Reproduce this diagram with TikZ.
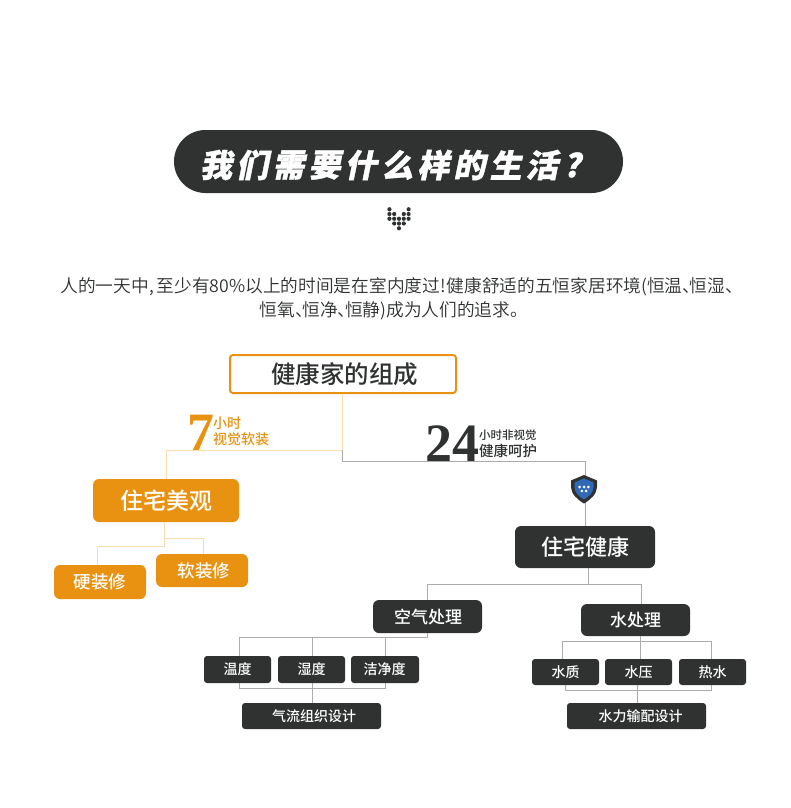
\documentclass[tikz,border=0pt]{standalone}
\usepackage{fontspec}
\setmainfont{Liberation Serif}
\newfontfamily\cjk{Noto Sans CJK SC DemiLight}
\newfontfamily\cjkbold[FakeBold=1.2,FakeSlant=0.2]{Noto Sans CJK SC Black}
\newfontfamily\cjkmed{Noto Sans CJK SC Medium}
\definecolor{ink}{HTML}{2F3231}
\definecolor{amber}{HTML}{E99211}
\definecolor{paleamber}{HTML}{F8DDB0}
\definecolor{wire}{HTML}{ABABAB}
\definecolor{shieldblue}{HTML}{2F69B8}
\tikzset{
  x=1pt,y=-1pt,
  box/.style={rounded corners=6pt,inner sep=0pt,text=white,font=\cjkmed},
  darkbox/.style={box,fill=ink},
  amberbox/.style={box,fill=amber},
  wireline/.style={draw=wire,line width=1pt},
  paleline/.style={draw=paleamber,line width=1pt},
  bodytext/.style={inner sep=0pt,text=ink,font=\cjk\fontsize{17.7}{18}\selectfont},
  numeral/.style={inner sep=0pt,anchor=base west,font=\bfseries\fontsize{54}{54}\selectfont},
  tag/.style={inner sep=0pt,anchor=west,font=\cjkmed},
}
\newcommand{\dun}{、\kern-10.5pt\relax}
% box by corners: name, x0, y0, x1, y1, style, size, text
\newcommand{\cornerbox}[8]{%
  \node[#6,minimum width=#4pt-#2pt,minimum height=#5pt-#3pt,font=\cjkmed\fontsize{#7}{#7}\selectfont] (#1) at ({(#2+#4)/2},{(#3+#5)/2}) {#8};}
\begin{document}
\begin{tikzpicture}
\useasboundingbox (0,0) rectangle (790,808);
\fill[white] (0,0) rectangle (790,808);

% junction points
\coordinate (jTop) at (342,394);
\coordinate (jPale) at (342,450);
\coordinate (jDark) at (342,461.5);
\coordinate (jAmberIn) at (166,479);
\coordinate (jHome) at (585,461.5);
\coordinate (jHomeIn) at (585,526);
\coordinate (jA) at (164,522);
\coordinate (jA1) at (164,546);
\coordinate (jA2) at (164,538);
\coordinate (jHard) at (97,565);
\coordinate (jSoft) at (203,554);
\coordinate (jH) at (588,568);
\coordinate (jH1) at (588,584);
\coordinate (jAir) at (427,600);
\coordinate (jWater) at (641,604);

% wires (behind the boxes)
\draw[paleline] (jTop) -- (jPale) -- (jPale -| jAmberIn) -- (jAmberIn);
\draw[wireline] (jPale) -- (jDark) -- (jHome) -- (jHomeIn);
\draw[paleline] (jA) -- (jA1) -- (jA1 -| jHard) -- (jHard);
\draw[paleline] (jA2) -- (jA2 -| jSoft) -- (jSoft);
\draw[wireline] (jH) -- (jH1);
\draw[wireline] (jAir) -- (jAir |- jH1) -- (jWater |- jH1) -- (jWater);

% title
\node[fill=ink,rounded corners=31.5pt,minimum width=449pt,minimum height=63pt,inner sep=0pt] (title) at (398.5,161.5) {};
\foreach \ch [count=\i from 0] in {我,们,需,要,什,么,样,的,生,活}
  \node[inner sep=0pt,text=white,font=\cjkbold\fontsize{32}{32}\selectfont] (tc\i) at ({216+\i*36.2},165) {\ch};
\node[inner sep=0pt,text=white,font=\cjkbold\fontsize{32}{32}\selectfont] (tcq) at (572,165) {?};

% dotted heart
\foreach \cx/\cy in {
 1/1,5/1,
 1/2,2/2,4/2,5/2,
 1/3,2/3,3/3,4/3,5/3,
 2/4,3/4,4/4,
 3/5}
  \fill[ink] ({384.6+\cx*4.8},{204.5+\cy*4.75}) circle (2.1pt);

% paragraph
\node[bodytext] (line1) at (396.5,287) {人的一天中,\kern3pt 至少有80\%以上的时间是在室内度过!\kern1pt 健康舒适的五恒家居环境(恒温\dun 恒湿\dun};
\node[bodytext] (line2) at (394,311) {恒氧\dun 恒净\dun 恒静)成为人们的追求。};

% root
\node[draw=amber,line width=2pt,fill=white,rounded corners=3pt,minimum width=226pt,minimum height=38pt,inner sep=0pt,text=ink,font=\cjkmed\fontsize{24.5}{26}\selectfont] (root) at (343,374) {\hspace*{3pt}健康家的组成};

% numerals and tags
\node[numeral,text=amber] (seven) at (187,450) {7};
\node[tag,text=amber,font=\cjkmed\fontsize{14}{14}\selectfont] (t7a) at (213,423.5) {小时};
\node[tag,text=amber,font=\cjkmed\fontsize{14}{14}\selectfont] (t7b) at (213,439.5) {视觉软装};
\node[numeral,text=ink] (tfour) at (425,461) {24};
\node[tag,text=ink,font=\cjkmed\fontsize{11.5}{12}\selectfont] (t24a) at (479,435.5) {小时非视觉};
\node[tag,text=ink,font=\cjkmed\fontsize{14.5}{15}\selectfont] (t24b) at (479,450.5) {健康呵护};

% shield
\fill[ink] (584,475) -- (597,480.5) -- (597,487) .. controls (597,494) and (590,500) .. (584,503.5) .. controls (578,500) and (571,494) .. (571,487) -- (571,480.5) -- cycle;
\fill[shieldblue] (584,478.5) -- (593.5,482.5) -- (593.5,487) .. controls (593.5,492.5) and (588.5,497) .. (584,499.5) .. controls (579.5,497) and (574.5,492.5) .. (574.5,487) -- (574.5,482.5) -- cycle;
\foreach \px/\py in {579.7/487,584/487,588.3/487,581.8/491,586.2/491}
  \fill[white] (\px,\py) circle (1.5pt);

% boxes
\cornerbox{beauty}{93}{479}{239}{522}{amberbox}{23}{住宅美观}
\cornerbox{soft}{156}{554}{248}{587}{amberbox}{17.5}{\hspace*{4pt}软装修}
\cornerbox{hard}{54}{565}{146}{599}{amberbox}{17.5}{硬装修}
\cornerbox{health}{515}{526}{655}{568}{darkbox}{22}{住宅健康}
\cornerbox{air}{373}{600}{482}{633}{darkbox}{17}{\hspace*{1pt}空气处理}
\cornerbox{water}{581}{604}{690}{636}{darkbox}{17}{水处理}

% air group wires
\coordinate (a1) at (239,657);
\coordinate (a2) at (312,657);
\coordinate (a3) at (385,657);
\draw[wireline] (air.south -| jAir) -- (jAir |- 0,637) -- (a1 |- 0,637) -- (a1);
\draw[wireline] (a2 |- 0,637) -- (a2);
\draw[wireline] (a3 |- 0,637) -- (a3);
\draw[wireline] (a1) -- (a1 |- 0,688) -- (a3 |- 0,688) -- (a3);
\draw[wireline] (a2) -- (a2 |- 0,703);

% water group wires
\coordinate (w1) at (562,659);
\coordinate (w2) at (640,659);
\coordinate (w3) at (711,659);
\coordinate (w4) at (565,685);
\coordinate (w5) at (637,685);
\draw[wireline] (w1) -- (w1 |- 0,641) -- (w3 |- 0,641) -- (w3);
\draw[wireline] (w2 |- water.south) -- (w2);
\draw[wireline] (w4) -- (w4 |- 0,690) -- (w3 |- 0,690) -- (w3 |- 0,685);
\draw[wireline] (w5) -- (w5 |- 0,703);

\cornerbox{b1}{204}{656}{271}{683}{darkbox,rounded corners=3pt}{14}{温度}
\cornerbox{b2}{278}{656}{345}{683}{darkbox,rounded corners=3pt}{14}{湿度}
\cornerbox{b3}{351}{656}{419}{683}{darkbox,rounded corners=3pt}{14}{\hspace*{-1pt}洁净度}
\cornerbox{b4}{242}{703}{381}{729}{darkbox,rounded corners=3pt}{14}{\hspace*{5pt}气流组织设计}
\cornerbox{c1}{532}{659}{599}{685}{darkbox,rounded corners=3pt}{14}{水质}
\cornerbox{c2}{605}{659}{672}{685}{darkbox,rounded corners=3pt}{14}{水压}
\cornerbox{c3}{679}{659}{746}{685}{darkbox,rounded corners=3pt}{14}{热水}
\cornerbox{c4}{567}{703}{706}{729}{darkbox,rounded corners=3pt}{14}{\hspace*{8pt}水力输配设计}
\end{tikzpicture}
\end{document}
